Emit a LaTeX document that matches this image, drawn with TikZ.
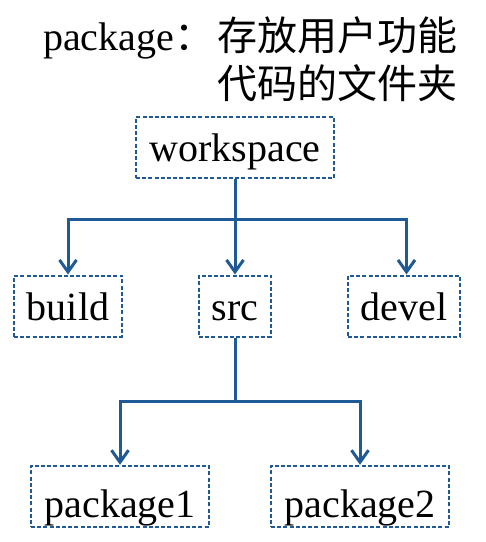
\documentclass[tikz,border=0pt]{standalone}
\usepackage{fontspec}
\setmainfont{Liberation Serif}
\newfontfamily\cjk{Noto Sans CJK SC}
\usetikzlibrary{arrows.meta}
\definecolor{lineblue}{HTML}{1F5A97}
\begin{document}
\begin{tikzpicture}[x=1pt,y=-1pt,
  box/.style={draw=lineblue, line width=2pt, dash pattern=on 4pt off 2.2pt, inner sep=0pt,
    font=\fontsize{40}{48}\selectfont, text height=34pt, text depth=6pt},
  lowbox/.style={box, text height=42pt, text depth=0pt},
  title/.style={anchor=base west, inner sep=0pt, font=\fontsize{40}{48}\selectfont},
  conn/.style={draw=lineblue, line width=3pt},
  arr/.style={conn, -{Straight Barb[length=12pt,width=17pt]}}]
\useasboundingbox (0,0) rectangle (486,542);

\node[title] (t1) at (43,50) {package{\cjk ：}};
\node[title] (t2) at (217,50) {\cjk 存放用户功能};
\node[title] (t3) at (217,98) {\cjk 代码的文件夹};

\node[box, minimum width=198pt, minimum height=61pt] (ws) at (235,147.5) {workspace};
\node[box, minimum width=108pt, minimum height=61pt] (build) at (68,306) {build};
\node[box, minimum width=72pt, minimum height=61pt] (src) at (235,306) {src};
\node[box, minimum width=112pt, minimum height=61pt] (devel) at (404,306) {devel};
\node[lowbox, minimum width=178pt, minimum height=61pt] (p1) at (120,496.3) {package1};
\node[lowbox, minimum width=178pt, minimum height=61pt] (p2) at (360,496.3) {package2};

\coordinate (j1) at (235,219.5);
\coordinate (j2) at (235,401.5);
\draw[conn] (ws.south) -- (j1);
\draw[arr] (j1) -| (build.north);
\draw[arr] (j1) -- (src.north);
\draw[arr] (j1) -| ([xshift=2.5pt]devel.north);
\draw[conn] (src.south) -- (j2);
\draw[arr] (j2) -| (p1.north);
\draw[arr] (j2) -| (p2.north);
\end{tikzpicture}
\end{document}
